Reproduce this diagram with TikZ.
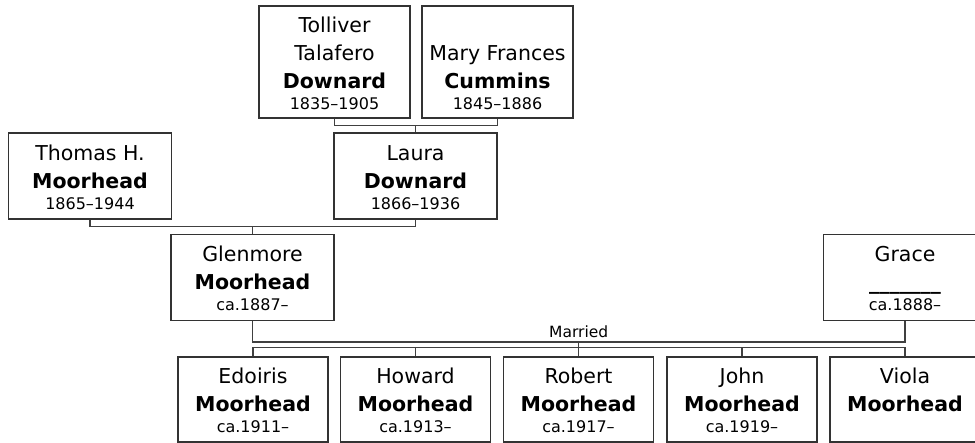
\documentclass[tikz,border=0pt]{standalone}
\usepackage{fontspec}
\setmainfont{DejaVu Sans}
\usetikzlibrary{calc}
\newcommand\who[3]{\rule{0pt}{17.5pt}#1\\\textbf{#2}\\[-7pt]{\fontsize{16}{20}\selectfont\vphantom{0}#3}}

\begin{document}
\begin{tikzpicture}[x=1pt,y=-1pt,
    person/.style={draw=black!80,line width=1.3pt,rectangle,inner sep=0pt,
        align=center,font=\fontsize{20.5}{28}\selectfont},
    elder/.style={person,minimum width=151pt,minimum height=112pt},
    adult/.style={person,minimum width=163pt,minimum height=86pt},
    child/.style={person,minimum width=150pt,minimum height=85pt},
    link/.style={draw=black!75,line width=1.6pt}]
  \useasboundingbox (0,0) rectangle (975,443);
  % grandparents
  \node[elder] (tolliver) at (334.5,62) {\who{Tolliver\\Talafero}{Downard}{1835--1905}};
  \node[elder] (mary) at (497.5,62) {\rule{0pt}{17.5pt}\\\who{Mary Frances}{Cummins}{1845--1886}};
  % parents
  \node[adult] (thomas) at (90,176) {\who{Thomas H.}{Moorhead}{1865--1944}};
  \node[adult] (laura) at (415.5,176) {\who{Laura}{Downard}{1866--1936}};
  \node[adult] (glenmore) at (252.5,277.5) {\who{Glenmore}{Moorhead}{ca.1887--}};
  \node[adult] (grace) at (905,277.5) {\who{Grace}{\_\_\_\_\_\_\_}{ca.1888--}};
  % children
  \foreach \x/\n/\first/\d in {253/edoiris/Edoiris/ca.1911--,
      415.5/howard/Howard/ca.1913--,578.5/robert/Robert/ca.1917--,
      742/john/John/ca.1919--,905/viola/Viola/}{
    \node[child] (\n) at (\x,399.5) {\who{\first}{Moorhead}{\d}};
  }
  \draw[link] (tolliver.south) -- ++(0,7) coordinate (tm) -| (mary.south);
  \draw[link] (laura.north) -- (laura.north |- tm);
  \draw[link] (thomas.south) -- ++(0,7) coordinate (tl) -| (laura.south);
  \draw[link] (glenmore.north) -- (glenmore.north |- tl);
  \draw[link] (glenmore.south) -- ++(0,21) coordinate (gg) -| (grace.south);
  \node[anchor=base,font=\fontsize{15.5}{18}\selectfont] (married)
      at ($(gg)!0.5!(gg -| grace.south)+(0,-5)$) {Married};
  \draw[link] (edoiris.north) -- ++(0,-9) -| (viola.north);
  \foreach \n in {howard,john}{
    \draw[link] (\n.north) -- ++(0,-9);
  }
  \draw[link] (robert.north) -- (robert.north |- gg);
\end{tikzpicture}
\end{document}
